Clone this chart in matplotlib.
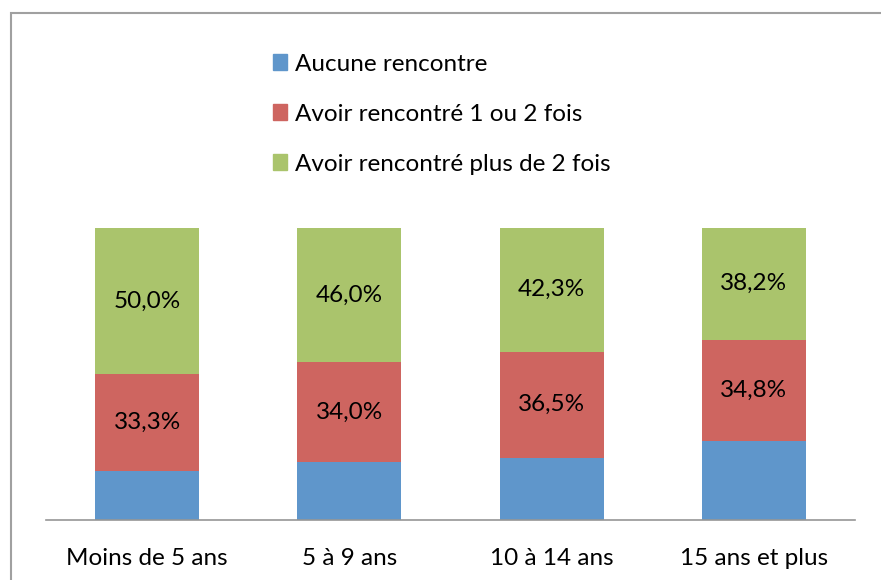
import matplotlib.pyplot as plt
from matplotlib.patches import Patch, Rectangle

categories = ['Moins de 5 ans', '5 à 9 ans', '10 à 14 ans', '15 ans et plus']
series = ['Aucune rencontre', 'Avoir rencontré 1 ou 2 fois', 'Avoir rencontré plus de 2 fois']
aucune = [16.7, 20.0, 21.2, 27.0]
une_deux = [33.3, 34.0, 36.5, 34.8]
plus_deux = [50.0, 46.0, 42.3, 38.2]
colors = ['#5F96CB', '#CE6560', '#AAC46C']

plt.rcParams['font.family'] = ['Lato', 'DejaVu Sans']
fs = 17.5

fig = plt.figure(figsize=(8.81, 5.8), dpi=100)
ax = fig.add_axes([46 / 881, 1 - 520 / 580, 809 / 881, 292 / 580])

x = range(len(categories))
w = 0.515
ax.bar(x, aucune, w, color=colors[0], label=series[0])
bottom2 = aucune
ax.bar(x, une_deux, w, bottom=bottom2, color=colors[1], label=series[1])
bottom3 = [a + b for a, b in zip(aucune, une_deux)]
ax.bar(x, plus_deux, w, bottom=bottom3, color=colors[2], label=series[2])

# value labels on red and green segments
for i in x:
    ax.text(i, bottom2[i] + une_deux[i] / 2, f'{une_deux[i]:.1f}%'.replace('.', ','),
            ha='center', va='center', fontsize=fs)
    ax.text(i, bottom3[i] + plus_deux[i] / 2, f'{plus_deux[i]:.1f}%'.replace('.', ','),
            ha='center', va='center', fontsize=fs)

ax.set_xlim(-0.5, len(categories) - 0.5)
ax.set_ylim(0, 100)
ax.set_xticks(list(x))
ax.set_xticklabels(categories, fontsize=fs)
ax.tick_params(axis='x', length=0, pad=20)
ax.set_yticks([])
for s in ['top', 'left', 'right']:
    ax.spines[s].set_visible(False)
ax.spines['bottom'].set_color('#969696')
ax.spines['bottom'].set_linewidth(1.2)

handles = [Patch(color=c) for c in colors]
fig.legend(handles, series, loc='upper left', bbox_to_anchor=(263 / 881, 1 - 44 / 580),
           frameon=False, fontsize=fs, handlelength=0.6, handleheight=0.6,
           handletextpad=0.3, labelspacing=1.19, borderaxespad=0)

# outer chart frame
fig.patches.append(Rectangle((11 / 881, -0.05), 1.0, 1 - 13 / 580 + 0.05,
                             transform=fig.transFigure, fill=False,
                             edgecolor='#A0A0A0', linewidth=1.5))

fig.savefig('out.png', dpi=100)
